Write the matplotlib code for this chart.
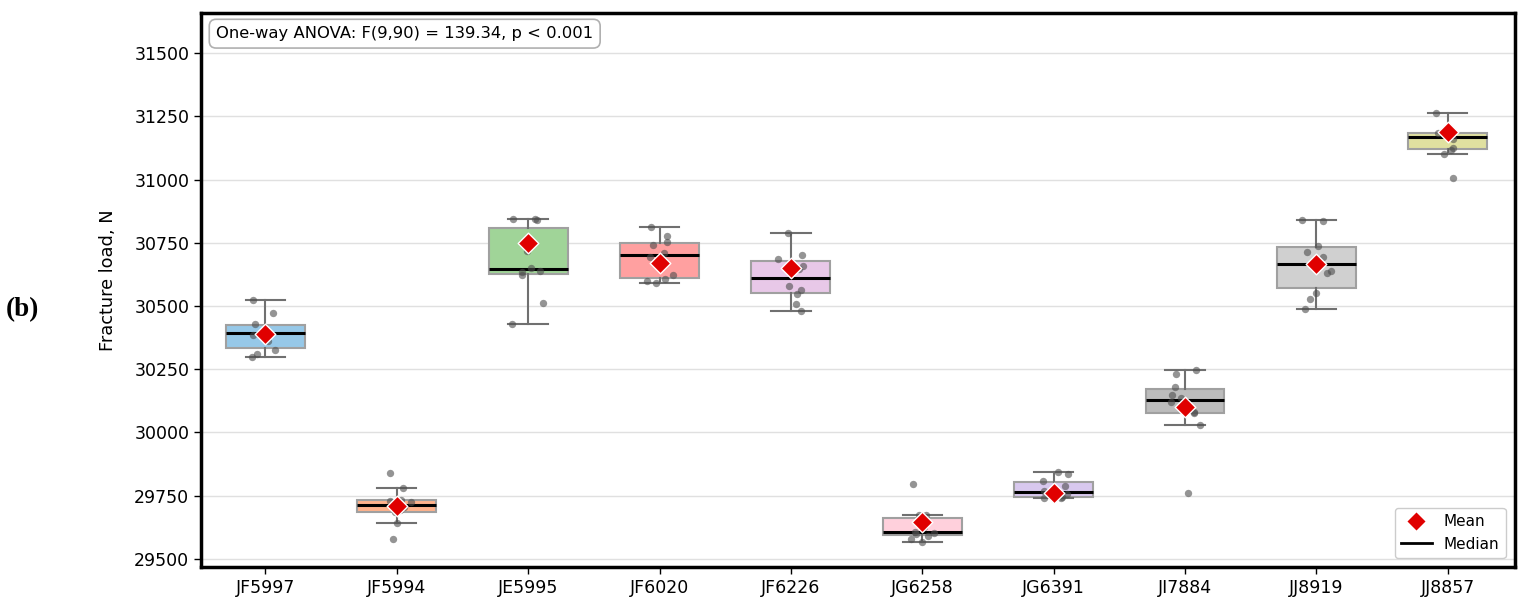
import numpy as np
import matplotlib.pyplot as plt
from matplotlib.lines import Line2D

# --- data ---
groups = ['JF5997', 'JF5994', 'JE5995', 'JF6020', 'JF6226',
          'JG6258', 'JG6391', 'JI7884', 'JJ8919', 'JJ8857']

jf5997 = [30300, 30312, 30325, 30360, 30385, 30400, 30405, 30430, 30473, 30525]
jf5994 = [29579, 29643, 29685, 29693, 29705, 29725, 29728, 29735, 29779, 29840]
je5995 = [30430, 30513, 30622, 30636, 30640, 30652, 30719, 30840, 30843, 30843]
jf6020 = [30593, 30600, 30605, 30622, 30695, 30710, 30741, 30754, 30777, 30811]
jf6226 = [30482, 30508, 30547, 30565, 30578, 30646, 30660, 30685, 30700, 30790]
jg6258 = [29567, 29580, 29592, 29598, 29603, 29607, 29625, 29672, 29675, 29795]
jg6391 = [29740, 29742, 29745, 29750, 29758, 29768, 29790, 29808, 29835, 29845]
ji7884 = [29762, 30029, 30076, 30082, 30120, 30136, 30148, 30180, 30230, 30248]
jj8919 = [30488, 30528, 30553, 30632, 30639, 30692, 30715, 30737, 30838, 30841]
jj8857 = [31007, 31102, 31118, 31125, 31160, 31174, 31180, 31184, 31185, 31262]

# mean markers as shown on the chart
means = [30391, 29709, 30748, 30671, 30649, 29647, 29759, 30099, 30667, 31187]

colors = ['#96c8e8', '#ffb28c', '#a0d498', '#ffa0a0', '#e8c8e8',
          '#ffd0dc', '#d8c8ee', '#bcbcbc', '#d0d0d0', '#e0e0a0']

data = [jf5997, jf5994, je5995, jf6020, jf6226,
        jg6258, jg6391, ji7884, jj8919, jj8857]
pos = np.arange(len(groups))

fig = plt.figure(figsize=(15.3, 6.13), dpi=100)
ax = fig.add_axes([0.1314, 0.075, 0.8586, 0.9035])

bp = ax.boxplot(data, positions=pos, widths=0.6, patch_artist=True,
                showfliers=False, zorder=2,
                boxprops=dict(edgecolor='#a0a0a0', linewidth=1.5),
                whiskerprops=dict(color='#707070', linewidth=1.5),
                capprops=dict(color='#707070', linewidth=1.5),
                medianprops=dict(color='black', linewidth=2.2))
for patch, c in zip(bp['boxes'], colors):
    patch.set_facecolor(c)

# jittered raw points
rng = np.random.default_rng(3)
for i, vals in enumerate(data):
    xj = i + rng.uniform(-0.12, 0.12, len(vals))
    ax.scatter(xj, vals, s=28, color='#4d4d4d', alpha=0.6, lw=0, zorder=3)

ax.scatter(pos, means, marker='D', s=110, color='#e00000',
           edgecolor='white', linewidth=1, zorder=4)

ax.set_xlim(-0.49, 9.51)
ax.set_ylim(29468, 31658)
ax.set_yticks(np.arange(29500, 31501, 250))
ax.set_xticks(pos)
ax.set_xticklabels(groups)
ax.tick_params(labelsize=12.5, length=5, width=1)
ax.yaxis.grid(True, color='#e0e0e0', linewidth=1)
ax.set_axisbelow(True)
for s in ax.spines.values():
    s.set_linewidth(2.5)

ax.set_ylabel('Fracture load, N', fontsize=12.8, color='black',
             fontweight='medium', labelpad=12, y=0.517)

ax.text(0.0115, 0.963, 'One-way ANOVA: F(9,90) = 139.34, p < 0.001',
        transform=ax.transAxes, fontsize=11.8, va='center', ha='left',
        bbox=dict(boxstyle='round,pad=0.42', fc='white', ec='#b0b0b0', lw=1.2))

handles = [Line2D([], [], marker='D', ls='none', color='#e00000',
                  markeredgecolor='white', markersize=10, label='Mean'),
           Line2D([], [], color='black', lw=2, label='Median')]
ax.legend(handles=handles, loc='lower right', fontsize=11, framealpha=1,
          borderaxespad=0.6)

fig.text(0.004, 0.495, '(b)', fontsize=19.5, fontweight='bold',
         family='Liberation Serif', va='center', ha='left')

fig.savefig('out.png', dpi=100)
